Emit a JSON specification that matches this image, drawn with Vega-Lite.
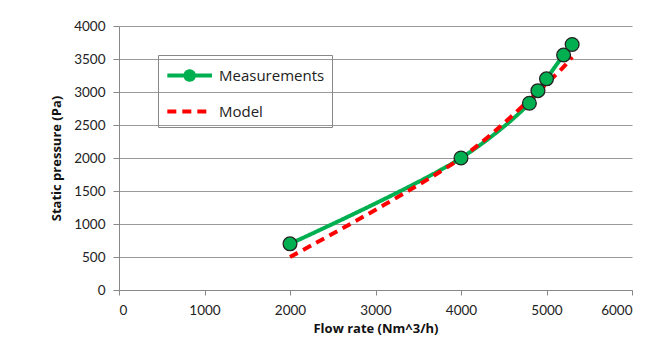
{
  "$schema": "https://vega.github.io/schema/vega-lite/v6.json",
  "width": 513,
  "height": 264,
  "autosize": "none",
  "padding": {"left": 119, "top": 26, "right": 23, "bottom": 68},
  "background": "white",
  "config": {
    "view": {"stroke": null},
    "font": "Lato",
    "axis": {
      "labelFont": "Lato", "labelFontSize": 13.5, "labelColor": "#222", "format": "d",
      "titleFont": "Open Sans", "titleFontSize": 13, "titleFontWeight": "bold", "titleColor": "#111",
      "domainColor": "#888", "tickColor": "#888", "gridColor": "#999", "gridWidth": 1
    }
  },
  "datasets": {
    "lines": [
      {"flow": 2000, "pressure": 700, "series": "Measurements"},
      {"flow": 4000, "pressure": 2000, "series": "Measurements"},
      {"flow": 4800, "pressure": 2830, "series": "Measurements"},
      {"flow": 4900, "pressure": 3020, "series": "Measurements"},
      {"flow": 5000, "pressure": 3200, "series": "Measurements"},
      {"flow": 5200, "pressure": 3560, "series": "Measurements"},
      {"flow": 5300, "pressure": 3720, "series": "Measurements"},
      {"flow": 2000, "pressure": 500, "series": "Model"},
      {"flow": 4000, "pressure": 2000, "series": "Model"},
      {"flow": 4800, "pressure": 2880, "series": "Model"},
      {"flow": 4900, "pressure": 3000, "series": "Model"},
      {"flow": 5000, "pressure": 3125, "series": "Model"},
      {"flow": 5200, "pressure": 3380, "series": "Model"},
      {"flow": 5300, "pressure": 3530, "series": "Model"}
    ]
  },
  "data": {"name": "lines"},
  "encoding": {
    "x": {"field": "flow", "type": "quantitative", "title": "Flow rate (Nm^3/h)",
      "scale": {"domain": [0, 6000], "nice": false},
      "axis": {"values": [0, 1000, 2000, 3000, 4000, 5000, 6000], "grid": false, "tickSize": 5, "labelPadding": 8, "titlePadding": 6}},
    "y": {"field": "pressure", "type": "quantitative", "title": "Static pressure (Pa)",
      "scale": {"domain": [0, 4000], "nice": false},
      "axis": {"values": [0, 500, 1000, 1500, 2000, 2500, 3000, 3500, 4000], "tickSize": 6, "labelPadding": 8, "titlePadding": 10}}
  },
  "layer": [
    {
      "mark": {"type": "line", "strokeWidth": 4, "interpolate": "catmull-rom"},
      "encoding": {
        "color": {"field": "series", "type": "nominal",
          "scale": {"domain": ["Measurements", "Model"], "range": ["#00B050", "#FF0000"]},
          "legend": {
            "title": null, "orient": "none", "legendX": 39, "legendY": 29,
            "labelFont": "Open Sans", "labelFontSize": 15, "labelColor": "#222",
            "symbolType": "stroke", "symbolSize": 500, "symbolStrokeWidth": 4,
            "rowPadding": 10, "labelOffset": 27, "padding": 7,
            "strokeColor": "#888",
            "encode": {"symbols": {"update": {
              "shape": {"signal": "datum.value === 'Model' ? 'M-1,0L3,0' : 'M-1,0L0.62,0M1.38,0L3,0M0.62,0A0.38,0.38 0 1 0 1.38,0A0.38,0.38 0 1 0 0.62,0'"},
              "fill": {"signal": "datum.value === 'Model' ? 'transparent' : '#00B050'"},
              "strokeDash": {"signal": "datum.value === 'Model' ? [9, 6] : [1, 0]"}
            }}}
          }},
        "strokeDash": {"field": "series", "type": "nominal",
          "scale": {"domain": ["Measurements", "Model"], "range": [[1, 0], [9, 6]]},
          "legend": null}
      }
    },
    {
      "transform": [{"filter": "datum.series === 'Measurements'"}],
      "mark": {"type": "point", "filled": true, "size": 190, "fill": "#00B050", "stroke": "#222", "strokeWidth": 1.3, "opacity": 1}
    }
  ]
}
